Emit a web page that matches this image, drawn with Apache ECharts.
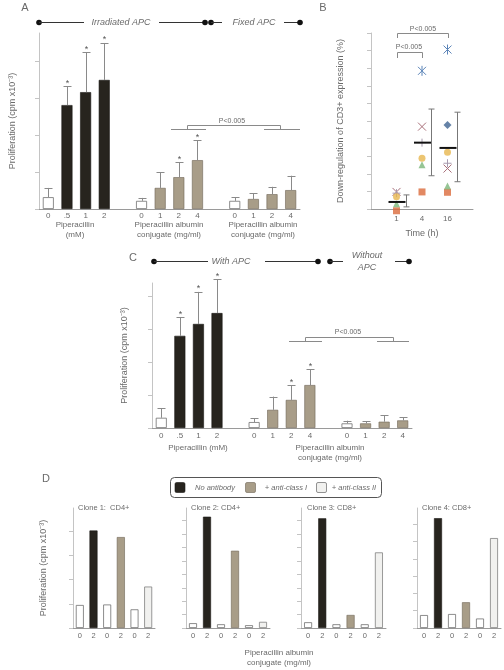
<!DOCTYPE html>
<html><head><meta charset="utf-8">
<script src="https://cdn.jsdelivr.net/npm/echarts@6/dist/echarts.min.js"></script>
<style>html,body{margin:0;padding:0;background:#fff}#c{width:504px;height:670px}</style>
</head><body><div id="c"></div>
<script>
// ---------- DATA ----------
// Panel A
const aCategories = ['0','.5','1','2','','0','1','2','4','','0','1','2','4'];
const aTreatment  = ['none','pip','pip','pip',null,'none','conj','conj','conj',null,'none','conj','conj','conj'];
const aValues = [0.32, 2.81, 3.16, 3.49, null, 0.22, 0.57, 0.86, 1.32, null, 0.22, 0.27, 0.40, 0.51];
const aErrTop = [0.57, 3.32, 4.24, 4.49, null, 0.30, 1.00, 1.27, 1.86, null, 0.32, 0.43, 0.60, 0.90];
const aStars  = [0, 1, 1, 1, 0, 0, 0, 1, 1, 0, 0, 0, 0, 0];
const aTicks = [0,1,2,3,4];
// Panel B
const bTimes = ['1','4','16'];
const bAsterisk = [null, 7.85, 9.06];
const bCross    = [0.97, 4.68, 2.30];
const bPlus     = [0.90, 3.77, 2.60];
const bDiamond  = [null, null, 4.77];
const bCircle   = [0.70, 2.88, 3.22];
const bTriangle = [0.30, 2.52, 1.30];
const bSquare   = [-0.10, 0.97, 0.95];
const bMean     = [0.40, 3.77, 3.47];
const bLow      = [0.12, 1.89, 1.55];
const bHigh     = [0.80, 5.68, 5.50];
const bTicks = [0,1,2,3,4,5,6,7,8,9,10];
// Panel C
const cCategories = ['0','.5','1','2','','0','1','2','4','','0','1','2','4'];
const cTreatment  = ['none','pip','pip','pip',null,'none','conj','conj','conj',null,'none','conj','conj','conj'];
const cValues = [0.31, 2.79, 3.15, 3.48, null, 0.18, 0.55, 0.85, 1.30, null, 0.14, 0.14, 0.19, 0.23];
const cErrTop = [0.60, 3.36, 4.12, 4.50, null, 0.30, 0.95, 1.30, 1.78, null, 0.22, 0.20, 0.38, 0.33];
const cStars  = [0, 1, 1, 1, 0, 0, 0, 1, 1, 0, 0, 0, 0, 0];
const cTicks = [0,1,2,3,4];
// Panel D
const dCategories = ['0','2','0','2','0','2'];
const dAntibody = ['none','none','classI','classI','classII','classII'];
const dClone1 = [0.95, 4.02, 0.97, 3.75, 0.77, 1.71];
const dClone2 = [0.36, 8.30, 0.28, 5.76, 0.21, 0.46];
const dClone3 = [0.43, 8.18, 0.28, 0.97, 0.28, 5.64];
const dClone4 = [0.75, 6.36, 0.81, 1.49, 0.55, 5.21];
const dTitles = ['Clone 1:  CD4+','Clone 2: CD4+','Clone 3: CD8+','Clone 4: CD8+'];

// ---------- STYLE ----------
const FONT = 'Liberation Sans, Arial, sans-serif';
const TXT = '#6a6a6a';
const AX = '#c4c4c4';
const BASE = '#9a9a9a';
const BLACK = '#27241e', GREY = '#a89d88', LIGHT = '#f1f1ef';

function styleAC(t){
  if (t === 'none') return {color:'#fff', borderColor:'#707070', borderWidth:0.8};
  if (t === 'pip') return {color:BLACK, borderColor:'#1a1814', borderWidth:0.6};
  return {color:GREY, borderColor:'#6e6555', borderWidth:0.6};
}
function styleD(i, dose){
  if (dose === '0') return {color:'#fff', borderColor:'#707070', borderWidth:0.8};
  const ab = dAntibody[i];
  if (ab === 'none') return {color:BLACK, borderColor:'#1a1814', borderWidth:0.6};
  if (ab === 'classI') return {color:GREY, borderColor:'#6e6555', borderWidth:0.6};
  return {color:LIGHT, borderColor:'#808080', borderWidth:0.8};
}

function yAx(grid, max, ticks, name, gap){
  return {type:'value', gridIndex:grid, min:0, max:max,
    axisLine:{show:true, lineStyle:{color:AX, width:1}},
    axisTick:{show:true, length:4, lineStyle:{color:AX}, customValues:ticks},
    axisLabel:{show:false}, splitLine:{show:false},
    name:name||'', nameLocation:'middle', nameGap:gap||0,
    nameTextStyle:{color:TXT, fontSize:9, fontFamily:FONT}};
}
function xCat(grid, cats, margin, size){
  return {type:'category', gridIndex:grid, data:cats,
    axisLine:{show:true, lineStyle:{color:BASE, width:1}},
    axisTick:{show:false},
    axisLabel:{interval:0, color:TXT, fontSize:size, fontFamily:FONT, margin:margin}};
}

function errRender(params, api){
  const x = api.value(0), v = api.value(1), e = api.value(2), s = api.value(3);
  const p0 = api.coord([x, v]), p1 = api.coord([x, e]);
  const xx = Math.round(p0[0]) + 0.5;
  const ch = [
    {type:'line', shape:{x1:xx, y1:p0[1], x2:xx, y2:p1[1]}, style:{stroke:'#8a8a8a', lineWidth:1}},
    {type:'line', shape:{x1:xx-4, y1:Math.round(p1[1])+0.5, x2:xx+4, y2:Math.round(p1[1])+0.5}, style:{stroke:'#8a8a8a', lineWidth:1}}
  ];
  if (s) ch.push({type:'text', x:xx, y:p1[1]-3, style:{text:'*', fill:'#555', fontSize:9, fontFamily:FONT,
      align:'center', verticalAlign:'middle', textAlign:'center', textVerticalAlign:'middle'}});
  return {type:'group', children:ch};
}
function errData(vals, errs, stars){
  const out = [];
  vals.forEach((v,i)=>{ if (v != null) out.push([i, v, errs[i], stars[i]]); });
  return out;
}
function pts(arr){ const o=[]; arr.forEach((v,i)=>{ if (v!=null) o.push([i+1, v]); }); return o; }

function markerRender(kind, color){
  return function(params, api){
    const p = api.coord([api.value(0), api.value(1)]);
    const r = 4, ch = [];
    const L = (x1,y1,x2,y2)=>ch.push({type:'line', shape:{x1:p[0]+x1,y1:p[1]+y1,x2:p[0]+x2,y2:p[1]+y2}, style:{stroke:color, lineWidth:1}});
    if (kind === 'cross' || kind === 'ast') { L(-r,-r,r,r); L(-r,r,r,-r); }
    if (kind === 'plus') { L(-r,0,r,0); L(0,-r,0,r); }
    if (kind === 'ast') { L(0,-r-1,0,r+1); }
    return {type:'group', children:ch};
  };
}

// ---------- OPTION ----------
const grids = [
  {left:38, top:33, width:262, height:176},   // A
  {left:371, top:33, width:102, height:176},  // B
  {left:152, top:283, width:260, height:145}, // C
  {left:73, top:508, width:82, height:120},   // D1
  {left:186, top:508, width:84, height:120},  // D2
  {left:301, top:508, width:85, height:120},  // D3
  {left:417, top:508, width:84, height:120}   // D4
];

const xAxes = [
  xCat(0, aCategories, 3, 8),
  {type:'value', gridIndex:1, min:0, max:4, interval:1,
    axisLine:{show:true, lineStyle:{color:BASE}}, axisTick:{show:false}, splitLine:{show:false},
    axisLabel:{color:TXT, fontSize:8, fontFamily:FONT, margin:6, formatter:(v)=> bTimes[v-1] || ''},
    name:'Time (h)', nameLocation:'middle', nameGap:20, nameTextStyle:{color:TXT, fontSize:9, fontFamily:FONT}},
  xCat(2, cCategories, 4, 8),
  xCat(3, dCategories, 4, 7.5),
  xCat(4, dCategories, 4, 7.5),
  xCat(5, dCategories, 4, 7.5),
  xCat(6, dCategories, 4, 7.5)
];
const yAxes = [
  yAx(0, 4.76, aTicks, 'Proliferation (cpm x10\u207B\u00B3)', 22),
  yAx(1, 10, bTicks, 'Down-regulation of CD3+ expression (%)', 26),
  yAx(2, 4.39, cTicks, 'Proliferation (cpm x10\u207B\u00B3)', 23),
  yAx(3, 4.95, [0,1,2,3,4], 'Proliferation (cpm x10\u207B\u00B3)', 25),
  yAx(4, 8.95, [0,1,2,3,4,5,6,7,8], '', 0),
  yAx(5, 8.95, [0,1,2,3,4,5,6,7,8], '', 0),
  yAx(6, 6.95, [0,1,2,3,4,5,6], '', 0)
];

const series = [];
// A
series.push({type:'bar', xAxisIndex:0, yAxisIndex:0, barWidth:11, silent:true,
  data:aValues.map((v,i)=> v==null ? null : {value:v, itemStyle:styleAC(aTreatment[i])})});
series.push({type:'custom', xAxisIndex:0, yAxisIndex:0, z:5, renderItem:errRender, data:errData(aValues, aErrTop, aStars)});
// C
series.push({type:'bar', xAxisIndex:2, yAxisIndex:2, barWidth:11, silent:true,
  data:cValues.map((v,i)=> v==null ? null : {value:v, itemStyle:styleAC(cTreatment[i])})});
series.push({type:'custom', xAxisIndex:2, yAxisIndex:2, z:5, clip:false, renderItem:errRender, data:errData(cValues, cErrTop, cStars)});
// D
[dClone1, dClone2, dClone3, dClone4].forEach((arr, k)=>{
  series.push({type:'bar', xAxisIndex:3+k, yAxisIndex:3+k, barWidth:8, silent:true,
    data:arr.map((v,i)=>({value:v, itemStyle:styleD(i, dCategories[i])}))});
});
// B scatter markers
const sc = (data, symbol, size, color)=>({type:'scatter', xAxisIndex:1, yAxisIndex:1, clip:false, symbol, symbolSize:size,
  itemStyle:{color}, data:pts(data), z:4});
series.push(sc(bSquare, 'rect', 7, '#db6a3b'));
series.push(sc(bTriangle, 'triangle', 7, '#7cb67a'));
series.push(sc(bCircle, 'circle', 7, '#e7b74f'));
series.push(sc(bDiamond, 'diamond', 8, '#3f6391'));
series.push({type:'custom', xAxisIndex:1, yAxisIndex:1, z:4, renderItem:markerRender('cross', '#a9707a'), data:pts(bCross)});
series.push({type:'custom', xAxisIndex:1, yAxisIndex:1, z:4, renderItem:markerRender('plus', '#a69aae'), data:pts(bPlus)});
series.push({type:'custom', xAxisIndex:1, yAxisIndex:1, z:4, renderItem:markerRender('ast', '#5b84b8'), data:pts(bAsterisk)});
// B mean lines
series.push({type:'custom', xAxisIndex:1, yAxisIndex:1, z:6,
  renderItem:(params, api)=>{
    const p = api.coord([api.value(0), api.value(1)]);
    return {type:'line', shape:{x1:p[0]-8, y1:p[1], x2:p[0]+9, y2:p[1]}, style:{stroke:'#111', lineWidth:2}};
  }, data:pts(bMean)});
// B error bars
series.push({type:'custom', xAxisIndex:1, yAxisIndex:1, z:6,
  renderItem:(params, api)=>{
    const t = api.value(0);
    const pl = api.coord([t, api.value(1)]), ph = api.coord([t, api.value(2)]);
    const x = Math.round(pl[0] + 9) + 0.5;
    const st = {stroke:'#777', lineWidth:1};
    return {type:'group', children:[
      {type:'line', shape:{x1:x, y1:pl[1], x2:x, y2:ph[1]}, style:st},
      {type:'line', shape:{x1:x-3, y1:pl[1], x2:x+3, y2:pl[1]}, style:st},
      {type:'line', shape:{x1:x-3, y1:ph[1], x2:x+3, y2:ph[1]}, style:st}
    ]};
  }, data:bLow.map((v,i)=>[i+1, v, bHigh[i]])});

// ---------- DECORATION ----------
const g = [];
function T(x, y, s, o){
  o = o || {};
  const al = o.align || 'center';
  g.push({type:'text', x:x, y:y, z:10, style:{text:s, fill:o.color||TXT, fontSize:o.size||8, fontFamily:FONT,
    fontStyle:o.italic?'italic':'normal', align:al, verticalAlign:'middle', textAlign:al, textVerticalAlign:'middle'}});
}
function Ln(x1,y1,x2,y2,c,w){ g.push({type:'line', z:10, shape:{x1,y1,x2,y2}, style:{stroke:c||'#333', lineWidth:w||1}}); }
function Dot(x,y){ g.push({type:'circle', z:10, shape:{cx:x, cy:y, r:2.8}, style:{fill:'#111'}}); }
function PL(points, c){ g.push({type:'polyline', z:10, shape:{points}, style:{stroke:c||'#8a8a8a', lineWidth:1, fill:null}}); }

// Panel letters
T(25, 8, 'A', {size:11}); T(323, 8, 'B', {size:11}); T(133, 258, 'C', {size:11}); T(46, 479, 'D', {size:11});

// Header A
Dot(39, 22.5); Ln(39, 22.5, 84, 22.5); T(121, 22.5, 'Irradiated APC', {size:9, italic:true});
Ln(159, 22.5, 205, 22.5); Dot(205, 22.5); Dot(211, 22.5); Ln(211, 22.5, 222, 22.5);
T(254, 22.5, 'Fixed APC', {size:9, italic:true}); Ln(284, 22.5, 300, 22.5); Dot(300, 22.5);

// Header C
Dot(154, 261.5); Ln(154, 261.5, 208, 261.5); T(231, 261.5, 'With APC', {size:9, italic:true});
Ln(265, 261.5, 318, 261.5); Dot(318, 261.5); Dot(330, 261.5); Ln(330, 261.5, 343, 261.5);
T(367, 255, 'Without', {size:9, italic:true}); T(367, 267, 'APC', {size:9, italic:true});
Ln(395, 261.5, 409, 261.5); Dot(409, 261.5);

// Group labels A
T(75, 225, 'Piperacillin'); T(75, 235, '(mM)');
T(169, 225, 'Piperacillin albumin'); T(169, 235, 'conjugate (mg/ml)');
T(263, 225, 'Piperacillin albumin'); T(263, 235, 'conjugate (mg/ml)');
// Bracket A
Ln(171, 129.5, 206, 129.5, '#8a8a8a'); PL([[187.5,129.5],[187.5,125.5],[280.5,125.5],[280.5,129.5]]);
Ln(264, 129.5, 300, 129.5, '#8a8a8a'); T(232, 121, 'P<0.005', {size:7});

// Bracket B
PL([[397.5,38],[397.5,33.5],[448.5,33.5],[448.5,38]]); T(423, 29, 'P<0.005', {size:7});
PL([[397.5,58],[397.5,52.5],[422.5,52.5],[422.5,58]]); T(409, 47, 'P<0.005', {size:7});

// Group labels C
T(198, 448, 'Piperacillin (mM)'); T(330, 448, 'Piperacillin albumin'); T(330, 458, 'conjugate (mg/ml)');
// Bracket C
Ln(289, 341.5, 322, 341.5, '#8a8a8a'); PL([[305.5,341.5],[305.5,337.5],[393.5,337.5],[393.5,341.5]]);
Ln(377, 341.5, 409, 341.5, '#8a8a8a'); T(348, 332, 'P<0.005', {size:7});

// Legend D
g.push({type:'rect', z:10, shape:{x:170.5, y:477.5, width:211, height:20, r:4}, style:{fill:'#fff', stroke:'#555', lineWidth:1}});
g.push({type:'rect', z:11, shape:{x:175, y:482.5, width:10, height:10, r:1.5}, style:{fill:BLACK, stroke:'#1a1814', lineWidth:0.6}});
T(215, 487.5, 'No antibody', {size:7.5, italic:true});
g.push({type:'rect', z:11, shape:{x:245.5, y:482.5, width:10, height:10, r:1.5}, style:{fill:GREY, stroke:'#6e6555', lineWidth:0.6}});
T(286, 487.5, '+ anti-class I', {size:7.5, italic:true});
g.push({type:'rect', z:11, shape:{x:316.5, y:482.5, width:10, height:10, r:1.5}, style:{fill:LIGHT, stroke:'#777', lineWidth:0.8}});
T(354, 487.5, '+ anti-class II', {size:7.5, italic:true});

// Clone titles
T(78, 508, dTitles[0], {size:7.5, align:'left'});
T(191, 508, dTitles[1], {size:7.5, align:'left'});
T(307, 508, dTitles[2], {size:7.5, align:'left'});
T(422, 508, dTitles[3], {size:7.5, align:'left'});
// D x label
T(279, 653, 'Piperacillin albumin'); T(279, 663, 'conjugate (mg/ml)');

const chart = echarts.init(document.getElementById('c'), null, {renderer:'canvas'});
chart.setOption({
  animation:false, backgroundColor:'#fff',
  textStyle:{fontFamily:FONT},
  grid:grids, xAxis:xAxes, yAxis:yAxes, series:series, graphic:g
});
</script>
</body></html>
